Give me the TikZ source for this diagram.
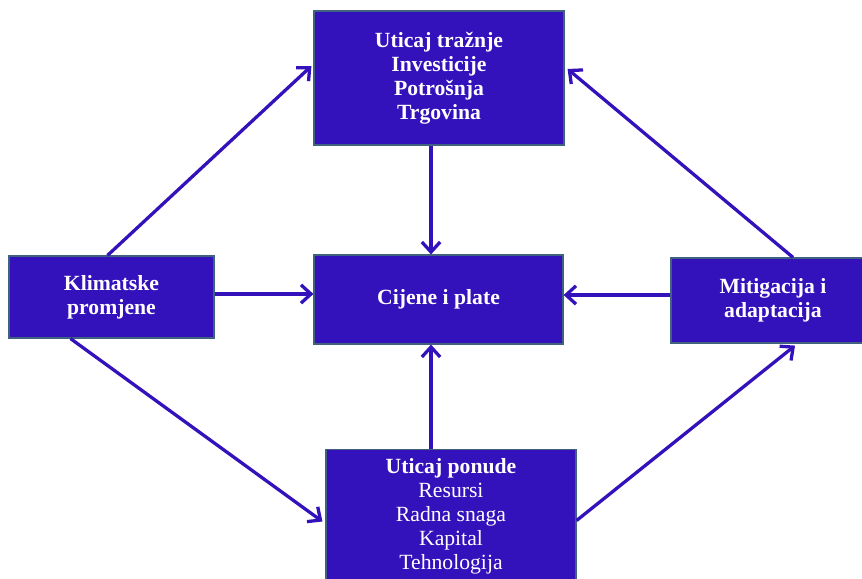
\documentclass[tikz,border=0pt]{standalone}
\usepackage{fontspec}
\setmainfont{Liberation Serif}
\usetikzlibrary{positioning,calc,arrows.meta}
\definecolor{boxblue}{HTML}{3311BB}
\definecolor{boxedge}{HTML}{41627E}

\begin{document}
\begin{tikzpicture}[x=0.3mm,y=-0.3mm,
    box/.style={draw=boxedge, line width=1pt, fill=boxblue, text=white,
        align=center, inner sep=0pt,
        font=\fontsize{18.5}{20.5}\selectfont\bfseries},
    link/.style={draw=boxblue, line width=2.8pt,
        -{Straight Barb[length=3mm,width=5.5mm]}}]
    \useasboundingbox (0,0) rectangle (862,579);

    % Boxes
    \node[box, minimum width=75mm, minimum height=40.2mm] (traznja) at (439,78)
        {Uticaj tražnje\\Investicije\\Potrošnja\\Trgovina};
    \node[box, minimum width=74.7mm, minimum height=26.7mm] (cijene) at (438.5,299.5)
        {Cijene i plate};
    \node[box, minimum width=61.5mm, minimum height=24.6mm] (klima) at (111.5,297)
        {Klimatske\\promjene};
    \node[box, minimum width=61.2mm, minimum height=25.5mm] (mitig) at (773,300.5)
        {Mitigacija i\\adaptacija};
    \node[box, minimum width=75mm, minimum height=40mm, font=\fontsize{18.5}{20.5}\selectfont]
        (ponuda) at (451,516.5)
        {\textbf{Uticaj ponude}\\Resursi\\Radna snaga\\Kapital\\Tehnologija};

    % Arrows into the middle box
    \draw[link] ($(traznja.south)+(-8,0)$) -- ($(cijene.north)+(-7.5,0)$);
    \draw[link] ($(ponuda.north)+(-20,0)$) -- ($(cijene.south)+(-7.5,0)$);
    \draw[link] ($(klima.east)+(0,-3)$) -- ($(cijene.west)+(0,-5.5)$);
    \draw[link] ($(mitig.west)+(0,-5.5)$) -- ($(cijene.east)+(0,-4.5)$);

    % Diagonal arrows
    \draw[link] ($(klima.north)+(-4,0)$) -- ($(traznja.west)+(-2,-12)$);
    \draw[link] ($(mitig.north)+(20,0)$) -- ($(traznja.east)+(3,-9)$);
    \draw[link] ($(klima.south)+(-41,0)$) -- ($(ponuda.west)+(-3,5)$);
    \draw[link] ($(ponuda.east)+(0,4)$) -- ($(mitig.south)+(22,2)$);
\end{tikzpicture}
\end{document}
